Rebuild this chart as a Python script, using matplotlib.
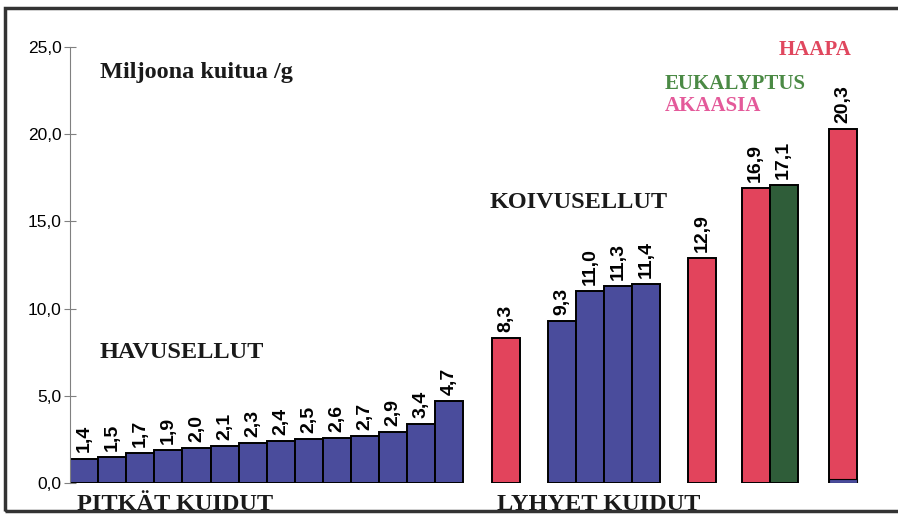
import matplotlib
matplotlib.use("Agg")
import matplotlib.pyplot as plt
from matplotlib.patches import Rectangle

# fibre counts, million fibres per gram
havu_values = [1.4, 1.5, 1.7, 1.9, 2.0, 2.1, 2.3, 2.4, 2.5, 2.6, 2.7, 2.9, 3.4, 4.7]
koivu_values = [9.3, 11.0, 11.3, 11.4]
haapa_values = [8.3, 12.9, 16.9, 20.3]
eukalyptus_values = [17.1]
haapa_base_stub = 0.25

# slot positions of each group (left edges, one slot per bar)
havu_pos = list(range(14))
koivu_pos = [17, 18, 19, 20]
haapa_pos = [15, 22, 23.9, 27]
eukalyptus_pos = [24.9]

yticks = [0, 5, 10, 15, 20, 25]
ytick_labels = ["0,0", "5,0", "10,0", "15,0", "20,0", "25,0"]

blue = "#4a4c9c"
red = "#e2445c"
green = "#2f5d39"

W, H = 898, 514
fig = plt.figure(figsize=(W / 100, H / 100), dpi=100)
ax = fig.add_axes([70 / W, 31 / H, 29 * 28.1 / W, 436 / H])


def bars(pos, vals, color):
    ax.bar(pos, vals, width=1.0, align="edge", color=color,
           edgecolor="black", linewidth=1.4, zorder=2)
    for p, v in zip(pos, vals):
        ax.text(p + 0.5, v + 0.35, f"{v:.1f}".replace(".", ","),
                rotation=90, ha="center", va="bottom",
                fontsize=14, fontweight="bold", family="Liberation Sans")


bars(havu_pos, havu_values, blue)
bars(koivu_pos, koivu_values, blue)
bars(haapa_pos, haapa_values, red)
bars(eukalyptus_pos, eukalyptus_values, green)
# thin blue stub at the foot of the last bar
ax.bar([haapa_pos[-1]], [haapa_base_stub], width=1.0, align="edge",
       color=blue, edgecolor="black", linewidth=0.8, zorder=3)

ax.set_xlim(0, 29)
ax.set_ylim(0, 25)
ax.set_yticks(yticks)
ax.set_yticklabels(ytick_labels, family="Liberation Sans", fontsize=12.5)
ax.set_xticks([])
for s in ["top", "right", "bottom"]:
    ax.spines[s].set_visible(False)
ax.spines["left"].set_color("#808080")
ax.tick_params(axis="y", direction="inout", length=8, color="#808080", pad=2)
ax.patch.set_alpha(0)

serif = "Liberation Serif"


def label(x, y, s, size=17.5, color="#1a1a1a"):
    fig.text(x / W, 1 - y / H, s, family=serif, fontweight="bold",
             fontsize=size, color=color, ha="left", va="center")


label(100, 73, "Miljoona kuitua /g")
label(100, 352, "HAVUSELLUT")
label(490, 203, "KOIVUSELLUT")
label(77, 504, "PITKÄT KUIDUT")
label(497, 504, "LYHYET KUIDUT")
label(779, 50, "HAAPA", 15, "#e0475e")
label(665, 84, "EUKALYPTUS", 15, "#4b8a45")
label(665, 106, "AKAASIA", 15, "#e45a9a")

# outer frame
fig.patches.append(Rectangle((5 / W, 3 / H), 1.0, 1 - 11 / H,
                             transform=fig.transFigure, fill=False,
                             edgecolor="#333333", linewidth=2.5))

fig.savefig("out.png", dpi=100)
